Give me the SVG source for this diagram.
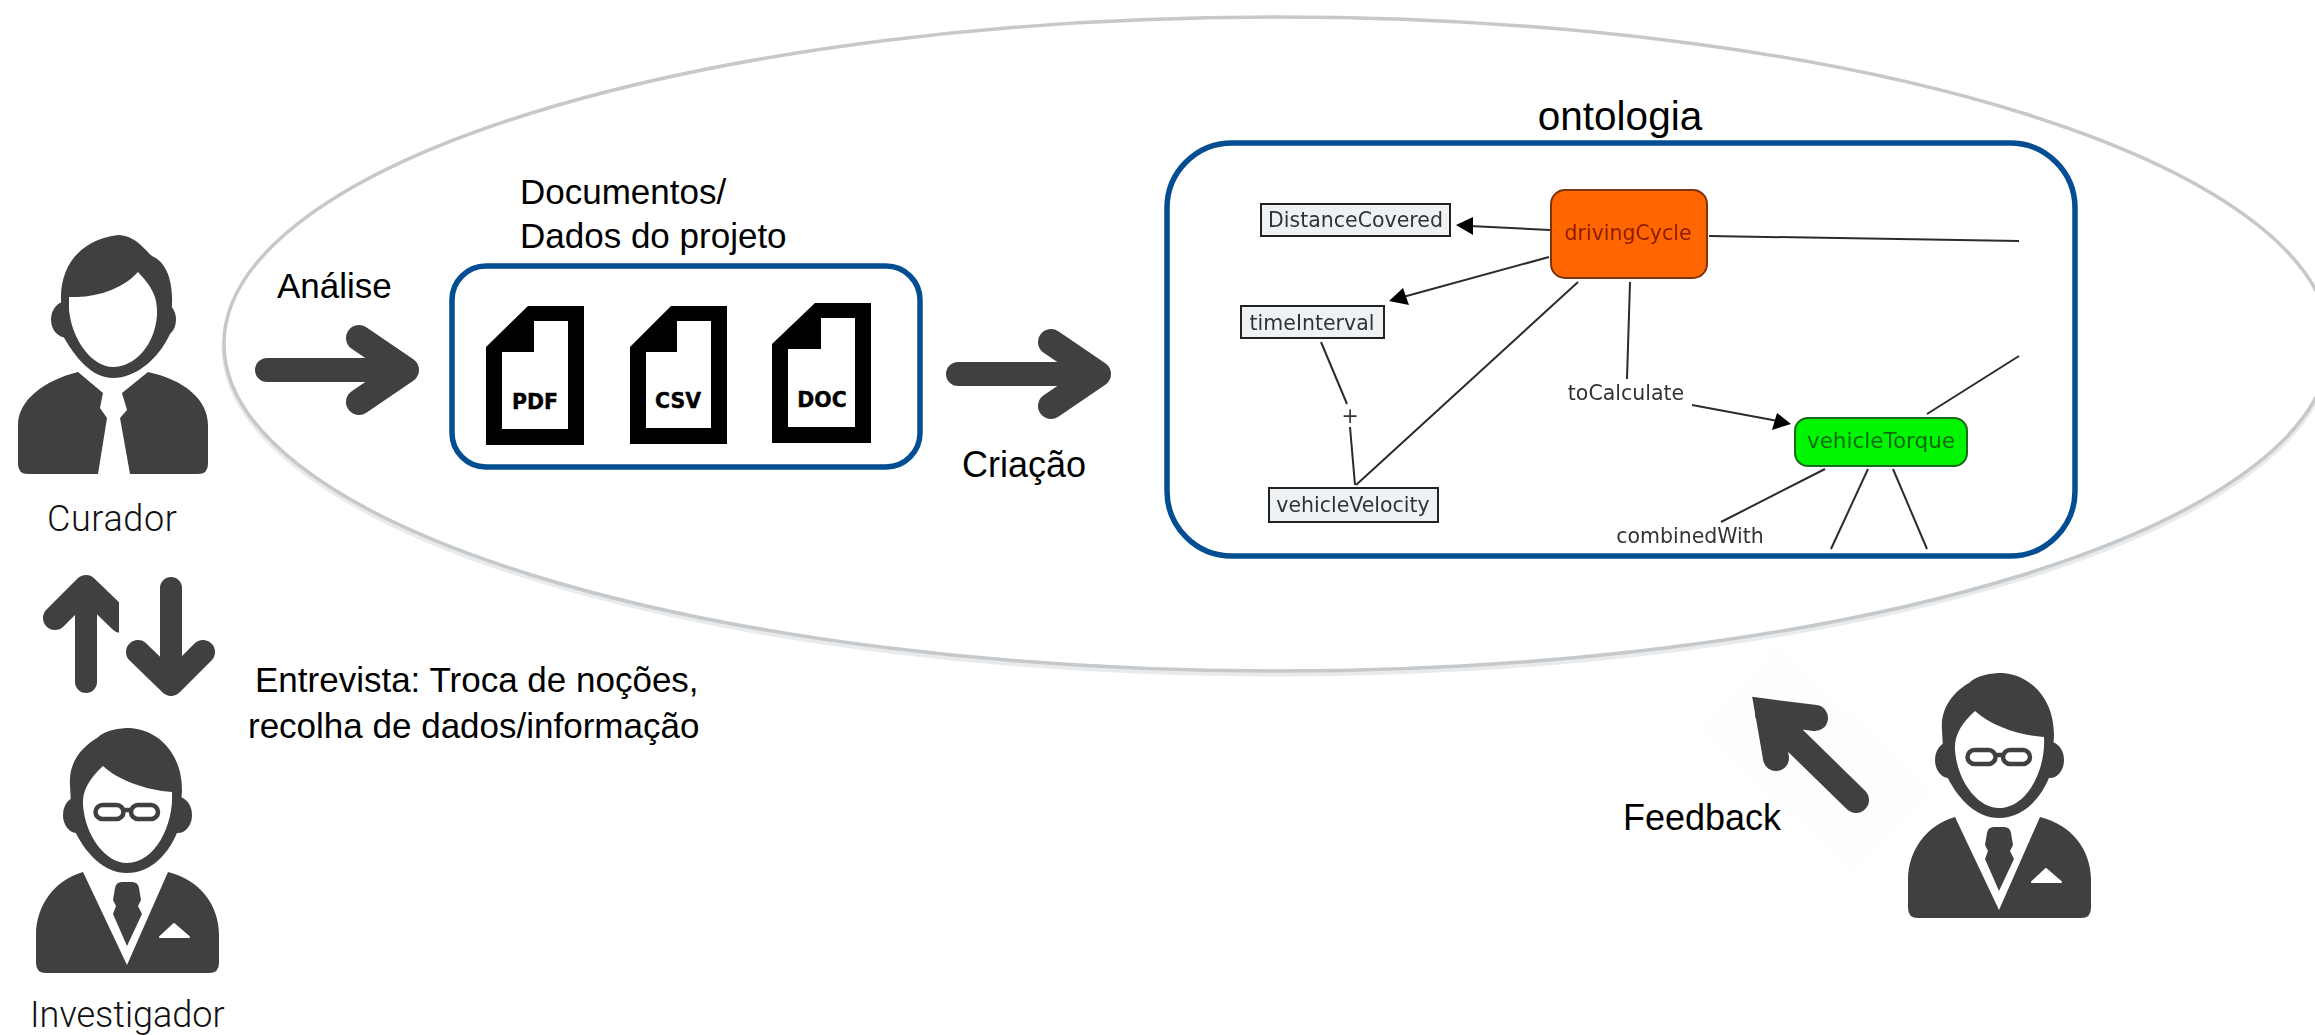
<svg xmlns="http://www.w3.org/2000/svg" width="2315" height="1035" viewBox="0 0 2315 1035">
<style>
text{font-family:"Liberation Sans",Arial,sans-serif;fill:#000}
.lab{font-size:35px}
.light{font-family:Roboto,"Liberation Sans",sans-serif;font-weight:300;font-size:36px;fill:#111}
.cm{font-family:"DejaVu Sans",Verdana,sans-serif;font-size:20.500px;fill:#333;text-anchor:middle}
.box{fill:#fff;stroke:#034e92;stroke-width:5.500}
.ico{fill:#404040}
.big{fill:none;stroke:#404040;stroke-width:26;stroke-linecap:round;stroke-linejoin:round}
.cl{fill:none;stroke:#2b2b2b;stroke-width:2}
.ah{fill:#000}
.cr{fill:#eef2f5;stroke:#222;stroke-width:2}
.doc{fill:#000;fill-rule:evenodd}
.dt{font-family:"DejaVu Sans",sans-serif;font-weight:700;font-size:20.500px;text-anchor:middle;stroke:#000;stroke-width:.4}
</style>
<defs>
<clipPath id="upclip"><rect x="30" y="560" width="89" height="150"/></clipPath>
<filter id="soft" x="-5%" y="-5%" width="110%" height="110%"><feGaussianBlur stdDeviation="0.6"/></filter>
<g id="investigator-icon">
<path class="ico" d="M70 785C68 760 85 745 97 738C105 730 120 728 130 728C160 730 182 755 182 790L180 825C170 855 150 873 127 873C105 873 85 855 72 825Z"/>
<ellipse class="ico" cx="77" cy="815" rx="14" ry="18"/>
<ellipse class="ico" cx="178" cy="815" rx="14" ry="18"/>
<path fill="#fff" d="M103 766C118 780 145 790 172 792C174 825 155 863 127 863C105 863 85 835 83 805C82 790 90 778 103 766Z"/>
<rect x="95.500" y="805" width="28" height="14" rx="7" fill="#fff" stroke="#404040" stroke-width="4.500"/>
<rect x="131" y="805" width="27" height="14" rx="7" fill="#fff" stroke="#404040" stroke-width="4.500"/>
<path d="M123 810H132" stroke="#404040" stroke-width="4.500"/>
<path class="ico" d="M83 872L127 965L168 872C200 880 219 905 219 935V963Q219 973 209 973H46Q36 973 36 963V935C36 905 55 880 83 872Z"/>
<path class="ico" d="M115 888Q116 882 122 882H132Q138 882 139 888L141 900L138 906L142 914L127 946L113 914L116 906L113 900Z"/>
<path fill="#fff" stroke="#fff" stroke-width="2" stroke-linejoin="round" d="M160 937H189L174 924Z"/>
</g>
</defs>
<rect width="2315" height="1035" fill="#fff"/>

<g id="scope">
<ellipse cx="1277" cy="347" rx="1053" ry="327" fill="none" stroke="#e9eaeb" stroke-width="5"/>
<ellipse cx="1277" cy="344" rx="1053" ry="327" fill="#fff" stroke="#c5c9cc" stroke-width="3.500"/>
</g>

<g id="curador">
<g filter="url(#soft)">
<path class="ico" d="M61 300C60 268 78 240 118 235C135 235 145 250 152 256C166 262 173 280 172 304L170 334C158 360 135 378 113 378C92 378 75 358 62 334Z"/>
<ellipse class="ico" cx="66" cy="319.500" rx="15" ry="18"/>
<ellipse class="ico" cx="161" cy="319.500" rx="15" ry="18"/>
<path fill="#fff" d="M69 297C90 298 120 292 138 272C150 285 158 295 157 315C155 345 135 367 113 367C92 367 72 340 69 310Z"/>
<path class="ico" d="M78 372L103 393L100 408L107 418L98 474H28Q18 474 18 464V425C18 400 45 380 78 372Z"/>
<path class="ico" d="M148 372C185 380 208 400 208 425V464Q208 474 198 474H130L120 418L127 410L122 393Z"/>
</g>
<text class="light" x="47" y="531" letter-spacing=".6">Curador</text>
</g>

<g id="investigador">
<use href="#investigator-icon" filter="url(#soft)"/>
<text class="light" x="30" y="1027">Investigador</text>
</g>

<g id="revisor">
<polygon points="1703,728 1778,647 1928,790 1850,870" fill="#fdfdfd"/>
<use href="#investigator-icon" transform="translate(1872 -55)" filter="url(#soft)"/>
</g>

<g id="documentos">
<rect class="box" x="452" y="266" width="468" height="201" rx="34"/>
<path class="doc" d="M528 306H584V445H486V347ZM534 321V352H502V429H568V321Z"/>
<text class="dt" x="535" y="409">PDF</text>
<path class="doc" d="M671 306H727V444H630V347ZM677 321V352H646V428H711V321Z"/>
<text class="dt" x="678" y="408">CSV</text>
<path class="doc" d="M815 303H871V443H772V344ZM821 318V349H788V427H855V318Z"/>
<text class="dt" x="822" y="407">DOC</text>
</g>

<g id="ontologia">
<rect class="box" x="1167" y="143" width="908" height="413" rx="65"/>
<g filter="url(#soft)">
<g id="n-distance"><rect class="cr" x="1261" y="204" width="189" height="32"/><text class="cm" x="1355.500" y="227">DistanceCovered</text></g>
<g id="n-time"><rect class="cr" x="1241" y="306" width="143" height="32"/><text class="cm" x="1312" y="330">timeInterval</text></g>
<g id="n-velocity"><rect class="cr" x="1269" y="488" width="169" height="34"/><text class="cm" x="1353" y="512">vehicleVelocity</text></g>
<g id="n-driving"><rect x="1551" y="190" width="156" height="88" rx="14" fill="#ff6600" stroke="#7a3410" stroke-width="2"/><text class="cm" x="1628" y="240" style="fill:#8a1e05">drivingCycle</text></g>
<g id="n-torque"><rect x="1795" y="418" width="172" height="48" rx="13" fill="#00f500" stroke="#1a6a1a" stroke-width="2"/><text class="cm" x="1881" y="448" style="fill:#0f6b0f;font-size:21.500px">vehicleTorque</text></g>
<text class="cm" x="1350" y="423">+</text>
<text class="cm" x="1626" y="400">toCalculate</text>
<text class="cm" x="1690" y="543">combinedWith</text>
</g>
</g>

<g id="connectors">
<path class="big" style="stroke-width:24" d="M267 370H400"/>
<path class="big" d="M359 338L406 370L359 402"/>
<path class="big" style="stroke-width:24" d="M958 374H1090"/>
<path class="big" d="M1051 342L1098 374L1051 406"/>
<g clip-path="url(#upclip)"><path class="big" style="stroke-width:22" d="M86 682V600"/><path class="big" style="stroke-width:24" d="M55 618L86 587L121 621"/></g>
<path class="big" style="stroke-width:22" d="M171 588V675"/><path class="big" style="stroke-width:24" d="M138 652L171 684L203 652"/>
<path class="big" style="stroke-width:26;stroke-linejoin:miter" d="M1856 800L1768 714M1815 718L1768 712L1776 758"/>
<path class="cl" d="M1550 230L1470 226"/><polygon class="ah" points="1456,225 1473,217 1473,235"/>
<path class="cl" d="M1549 257L1403 297"/><polygon class="ah" points="1389,301 1403,288 1409,305"/>
<path class="cl" d="M1578 282L1356 485"/>
<path class="cl" d="M1321 342L1347 404"/>
<path class="cl" d="M1350 427L1355 485"/>
<path class="cl" d="M1630 282L1627 379"/>
<path class="cl" d="M1692 405L1778 421"/><polygon class="ah" points="1791,424 1777,413 1772,430"/>
<path class="cl" d="M1709 236L2019 241"/>
<path class="cl" d="M1927 414L2019 356"/>
<path class="cl" d="M1825 469L1721 522"/>
<path class="cl" d="M1868 469L1831 549"/>
<path class="cl" d="M1893 469L1927 549"/>
</g>

<g id="labels">
<text class="lab" x="277" y="298">Análise</text>
<text class="lab" x="520" y="204">Documentos/</text>
<text class="lab" x="520" y="248">Dados do projeto</text>
<text class="lab" x="962" y="477" style="font-size:36px">Criação</text>
<text class="lab" x="1620" y="130" text-anchor="middle" style="font-size:40.500px">ontologia</text>
<text class="lab" x="255" y="692">Entrevista: Troca de noções,</text>
<text class="lab" x="248" y="738">recolha de dados/informação</text>
<text class="lab" x="1623" y="830" style="font-size:36px">Feedback</text>
</g>
</svg>
